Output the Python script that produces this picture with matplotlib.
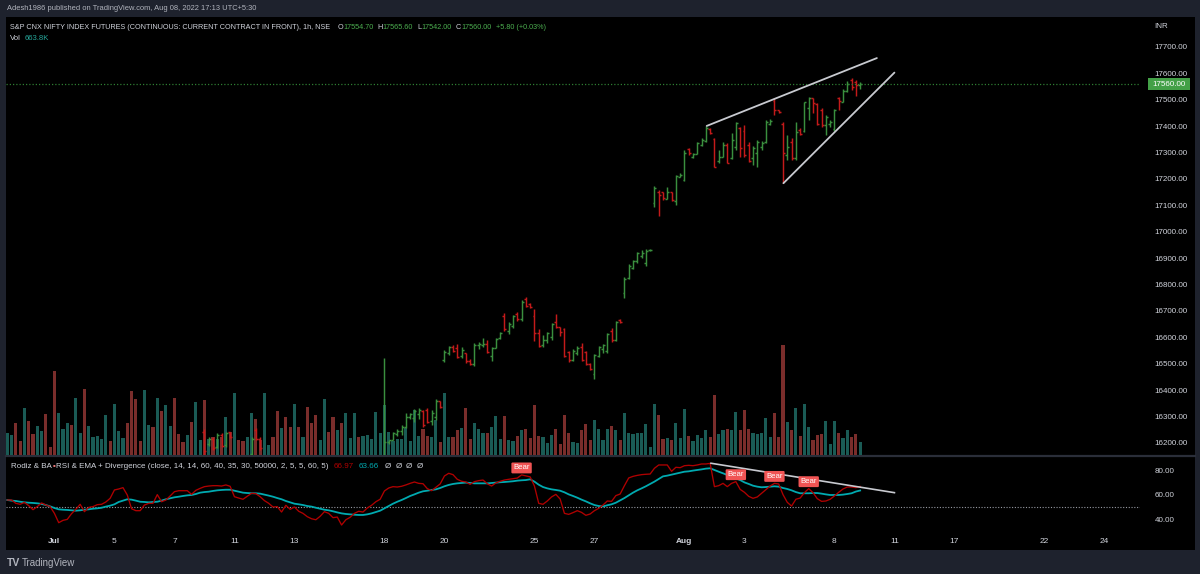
import matplotlib
matplotlib.use("Agg")
import matplotlib.pyplot as plt
import numpy as np
from matplotlib.collections import LineCollection
from matplotlib.patches import Rectangle

# ---------------- data ----------------
# hourly bars, index 0 = Jun 29 12:15 ... index 199 = Aug 8 15:15 (7 bars per session)
n_bars = 200

# volume in thousands
volume = [
    1100, 1000, 1600, 700, 2350, 1700, 1050, 1450, 1200, 2050,
    400, 4200, 2100, 1300, 1600, 1500, 2850, 1100, 3300, 1450,
    900, 950, 800, 2000, 700, 2550, 1200, 850, 1600, 3200,
    2800, 700, 3250, 1500, 1400, 2850, 2200, 2500, 1450, 2850,
    1050, 650, 1000, 1650, 2650, 750, 2750, 800, 900, 800,
    900, 1900, 1150, 3100, 750, 700, 900, 2100, 1800, 750,
    3100, 500, 900, 2200, 1350, 1900, 1400, 2550, 1400, 900,
    2400, 1600, 2000, 750, 2800, 1150, 1900, 1250, 1600, 2100,
    850, 2100, 900, 950, 1000, 800, 2150, 1100, 2500, 1150,
    700, 800, 800, 1350, 700, 2250, 950, 1300, 950, 900,
    1750, 650, 3100, 900, 900, 1250, 1350, 2350, 800, 1600,
    1300, 1100, 1100, 1400, 1950, 800, 1950, 750, 700, 950,
    1250, 1300, 850, 2500, 950, 900, 600, 1000, 1300, 550,
    2000, 1100, 650, 600, 1250, 1550, 750, 1750, 1300, 750,
    1300, 1450, 1250, 750, 2100, 1100, 1050, 1100, 1100, 1550,
    400, 2550, 2000, 800, 850, 750, 1600, 850, 2300, 950,
    700, 1000, 850, 1250, 900, 3000, 1050, 1250, 1300, 1250,
    2150, 1250, 2250, 1300, 1100, 1050, 1100, 1850, 900, 2100,
    900, 5500, 1650, 1250, 2350, 950, 2550, 1400, 750, 1000,
    1050, 1700, 550, 1700, 1100, 850, 1250, 900, 1050, 663.8,
]
# bar direction (t = close above open, r = close below open)
bar_dir = ("ttrrtrrttr" "rrtttrttrt" "ttttrtttrr" "rrttrtrttr" "rrtrttrtrt"
           "rtrtrrttrr" "ttrrtrrtrt" "rrrttrrtrt" "ttrttttttt" "tttttttrrt" "tr"
           "ttrrtrrttt" "rtttrttrtr" "rrrtttrrrr" "ttrrrttttr" "trtttttttt"
           "rrtrtttrtt" "ttrrttrttr" "rrtttttrrr" "trtrttrrrt" "ttrttrrt")

# OHLC of the bars visible inside the price window (index 46 .. 199), None = below window
ohlc_start = 46
N_ = None
opens = [16240, 16195, 16215, 16185, 16232, 16192, 16240,
         N_, N_, N_, N_, 16160, 16250, 16215] + [N_] * 28 + [
         16120, 16202, 16213, 16235, 16245, 16262, 16300,
         16295, 16310, 16320, 16325, 16285, 16300, 16358,
         16515, 16540, 16565, 16560, 16528, 16540, 16512,
         16500, 16570, 16570, 16575, 16530, 16560, 16598,
         16680, 16625, 16645, 16690, 16670, 16745, 16725,
         16680, 16615, 16570, 16590, 16600, 16660, 16638,
         16630, 16545, 16515, 16540, 16565, 16545, 16500,
         16460, 16530, 16555, 16550, 16625, 16590, 16665,
         16770, 16825, 16862, 16888, 16908, 16880, 16930,
         17108, 17150, 17150, 17125, 17150, 17115, 17208,
         17195, 17315, 17285, 17295, 17330, 17345, 17390,
         17352, 17270, 17285, 17330, 17280, 17320, 17395,
         17380, 17330, 17280, 17300, 17320, 17340, 17410,
         17495, 17460, 17410, 17290, 17340, 17280, 17385,
         17380, 17470, 17505, 17485, 17460, 17405, 17410,
         17390, 17507, 17493, 17535, 17575, 17568, 17554.7]
highs = [16252, 16224, 16221, 16237, 16237, 16243, 16243,
         N_, N_, N_, N_, 16224, 16256, 16224] + [N_] * 28 + [
         16522, 16213, 16243, 16252, 16268, 16312, 16315,
         16328, 16331, 16325, 16331, 16325, 16367, 16359,
         16552, 16567, 16571, 16574, 16562, 16542, 16518,
         16578, 16581, 16599, 16590, 16565, 16599, 16622,
         16691, 16657, 16685, 16697, 16742, 16754, 16729,
         16706, 16631, 16609, 16622, 16656, 16689, 16641,
         16637, 16550, 16555, 16567, 16578, 16550, 16504,
         16537, 16567, 16575, 16618, 16634, 16663, 16668,
         16830, 16877, 16893, 16925, 16931, 16935, 16934,
         17174, 17158, 17152, 17171, 17152, 17215, 17222,
         17310, 17316, 17297, 17342, 17354, 17400, 17392,
         17355, 17310, 17342, 17335, 17373, 17417, 17398,
         17405, 17340, 17325, 17348, 17345, 17423, 17426,
         17506, 17463, 17415, 17367, 17354, 17417, 17392,
         17493, 17512, 17506, 17487, 17468, 17442, 17424,
         17464, 17509, 17540, 17572, 17581, 17575, 17565.6]
lows = [16150, 16190, 16174, 16180, 16186, 16186, 16218,
        N_, N_, N_, N_, 16150, 16211, 16174] + [N_] * 28 + [
        16100, 16198, 16211, 16228, 16230, 16256, 16290,
        16281, 16290, 16262, 16275, 16268, 16287, 16331,
        16506, 16533, 16546, 16521, 16521, 16504, 16495,
        16492, 16556, 16565, 16540, 16511, 16559, 16594,
        16626, 16612, 16634, 16662, 16662, 16716, 16713,
        16588, 16565, 16562, 16578, 16590, 16634, 16605,
        16525, 16508, 16512, 16533, 16512, 16495, 16477,
        16441, 16525, 16542, 16542, 16584, 16588, 16656,
        16748, 16820, 16858, 16883, 16900, 16870, 16929,
        17095, 17060, 17121, 17123, 17118, 17102, 17207,
        17194, 17291, 17278, 17295, 17325, 17341, 17370,
        17244, 17260, 17285, 17260, 17275, 17310, 17285,
        17285, 17266, 17253, 17245, 17310, 17335, 17405,
        17443, 17449, 17184, 17272, 17272, 17272, 17367,
        17379, 17422, 17451, 17405, 17398, 17367, 17398,
        17383, 17461, 17490, 17531, 17537, 17515, 17542.0]
closes = [16170, 16215, 16180, 16230, 16190, 16238, 16222,
          N_, N_, N_, N_, 16215, 16215, 16180] + [N_] * 28 + [
          16205, 16210, 16238, 16247, 16262, 16300, 16310,
          16320, 16325, 16270, 16280, 16315, 16360, 16335,
          16545, 16562, 16550, 16524, 16554, 16510, 16498,
          16572, 16575, 16576, 16545, 16560, 16595, 16615,
          16632, 16652, 16680, 16668, 16735, 16720, 16714,
          16615, 16568, 16590, 16615, 16652, 16640, 16620,
          16528, 16515, 16550, 16560, 16514, 16500, 16482,
          16533, 16562, 16570, 16613, 16590, 16660, 16658,
          16823, 16870, 16891, 16921, 16921, 16929, 16932,
          17165, 17140, 17128, 17150, 17122, 17210, 17216,
          17297, 17297, 17295, 17335, 17348, 17392, 17376,
          17247, 17285, 17329, 17262, 17348, 17411, 17316,
          17290, 17270, 17316, 17342, 17335, 17417, 17421,
          17461, 17452, 17300, 17322, 17278, 17379, 17370,
          17490, 17505, 17487, 17408, 17404, 17436, 17415,
          17460, 17495, 17535, 17560, 17548, 17554.2, 17560.0]

rsi = [
    55.9, 55.9, 53.2, 52.4, 54.0, 51.3, 48.0, 50.5, 53.5, 51.8,
    50.5, 45.0, 37.4, 39.3, 40.1, 44.8, 48.3, 52.4, 46.4, 49.9,
    50.5, 52.1, 52.4, 54.3, 57.3, 64.1, 64.9, 66.0, 60.0, 48.8,
    47.2, 47.2, 51.8, 53.2, 53.2, 60.3, 54.5, 55.9, 59.2, 62.7,
    63.5, 63.5, 63.5, 60.5, 63.8, 65.4, 66.8, 67.3, 67.6, 67.6,
    67.3, 68.2, 67.1, 58.6, 57.5, 56.5, 58.9, 61.4, 61.1, 58.6,
    55.4, 53.2, 50.2, 50.5, 46.1, 51.6, 48.3, 50.2, 46.7, 45.0,
    42.3, 40.6, 39.8, 42.6, 46.4, 45.0, 41.5, 42.0, 35.5, 39.8,
    41.8, 45.0, 46.7, 46.1, 49.4, 51.6, 54.5, 56.5, 63.3, 65.7,
    66.8, 66.5, 67.1, 68.2, 69.5, 70.6, 69.5, 69.2, 65.2, 63.5,
    66.3, 69.0, 75.5, 77.7, 76.6, 72.8, 71.2, 70.6, 68.7, 70.9,
    71.7, 72.2, 69.2, 67.3, 69.8, 71.2, 72.2, 72.8, 73.3, 73.8,
    76.4, 75.6, 74.8, 67.3, 53.2, 52.4, 55.1, 58.4, 60.5, 56.7,
    45.0, 44.2, 45.6, 47.2, 45.8, 43.4, 44.5, 47.2, 49.1, 51.8,
    55.1, 54.8, 59.5, 60.8, 67.6, 73.9, 75.2, 76.0, 76.6, 76.9,
    77.1, 81.8, 84.5, 84.5, 84.5, 79.3, 82.6, 82.3, 83.9, 84.2,
    83.9, 84.5, 85.3, 85.3, 85.8, 66.8, 67.6, 69.5, 66.8, 69.5,
    70.9, 64.6, 62.2, 58.9, 57.3, 58.4, 61.4, 64.3, 67.3, 69.5,
    69.0, 60.3, 54.0, 51.0, 56.5, 57.5, 61.9, 65.2, 61.9, 57.0,
    54.8, 55.1, 56.5, 59.2, 62.2, 64.9, 66.5, 66.5, 66.0, 66.97,
]
rsi_ema = [
    55.9, 55.4, 55.1, 54.5, 54.0, 53.7, 53.5, 53.2, 52.7, 51.8,
    50.7, 49.4, 48.3, 48.0, 47.8, 47.5, 47.2, 47.5, 48.0, 48.3,
    48.8, 49.1, 49.6, 50.5, 51.3, 52.4, 54.3, 55.4, 56.5, 56.2,
    55.4, 54.5, 54.3, 54.0, 54.3, 54.5, 55.4, 56.5, 57.3, 58.1,
    58.6, 59.2, 59.7, 60.0, 60.8, 61.9, 62.4, 62.7, 63.3, 63.8,
    64.1, 64.3, 64.3, 63.5, 62.7, 61.9, 61.6, 61.4, 61.4, 61.1,
    60.3, 59.5, 58.6, 57.5, 56.5, 55.1, 54.0, 52.9, 52.4, 51.8,
    51.0, 50.5, 49.6, 48.8, 48.0, 47.5, 46.7, 45.8, 45.0, 44.5,
    44.2, 43.9, 43.7, 43.7, 44.2, 45.0, 46.1, 47.2, 49.1, 51.0,
    52.9, 54.5, 55.9, 57.5, 59.2, 60.5, 61.9, 63.0, 63.5, 64.1,
    64.6, 65.7, 67.1, 68.2, 69.0, 69.5, 69.8, 70.1, 69.8, 69.5,
    69.5, 69.5, 69.5, 69.8, 70.1, 70.4, 70.6, 70.9, 71.2, 71.7,
    72.0, 72.2, 72.8, 70.9, 68.4, 66.5, 65.4, 64.6, 64.1, 63.5,
    62.2, 60.5, 59.2, 57.8, 56.2, 54.8, 53.2, 51.8, 51.0, 50.7,
    51.6, 52.4, 53.7, 55.6, 57.5, 59.7, 61.9, 63.8, 65.4, 67.1,
    69.0, 70.9, 73.1, 75.2, 75.8, 76.6, 77.4, 78.2, 79.0, 79.3,
    79.9, 80.4, 80.9, 81.5, 81.8, 80.4, 79.0, 77.7, 76.3, 74.7,
    73.6, 72.2, 70.3, 69.0, 67.6, 66.8, 66.3, 66.5, 66.8, 67.1,
    66.8, 65.7, 64.9, 63.8, 62.4, 61.4, 61.4, 61.4, 61.6, 61.6,
    61.1, 60.5, 60.0, 60.0, 60.0, 60.3, 60.8, 61.4, 62.8, 63.66,
]
bear_pivots = [120, 170, 179, 187]

# drawings (bar index, value)
wedge_upper = [(163.2, 17401), (202.9, 17658)]
wedge_lower = [(181.1, 17184), (207.0, 17603)]
rsi_trend = [(164.2, 85.9), (207.0, 61.9)]

last_price = 17560.0
price_ticks = list(range(16200, 17701, 100))
rsi_ticks = [40, 60, 80]
date_idx = [11, 25, 39, 53, 67, 88, 102, 123, 137, 158, 172, 193, 207, 221, 242, 256]
date_lbl = ["Jul", "5", "7", "11", "13", "18", "20", "25", "27", "Aug", "3", "8", "11", "17", "22", "24"]

# ---------------- style ----------------
W, H, DPI = 1200, 574, 100
FRAME = "#1e222d"
TXT = "#d1d4dc"
UP_BAR, DN_BAR = "#3a8f3e", "#c41a1a"
UP_VOL, DN_VOL = "#1a5b55", "#7a2d2b"
RSI_C, EMA_C = "#b00000", "#00aab0"
plt.rcParams["font.family"] = ["Liberation Sans", "DejaVu Sans"]

fig = plt.figure(figsize=(W / DPI, H / DPI), dpi=DPI, facecolor=FRAME)


def rect(x0, y0, x1, y1):
    return [x0 / W, 1 - y1 / H, (x1 - x0) / W, (y1 - y0) / H]


bg = fig.add_axes(rect(0, 0, W, H))
bg.set_xlim(0, W); bg.set_ylim(H, 0); bg.axis("off")
bg.add_patch(Rectangle((6, 17), 1189, 533, facecolor="black", edgecolor="none"))
bg.plot([6, 1195], [456, 456], color="#2a2e39", lw=1.6)

XL = (-0.3, 264.3)
PRICE_RECT = rect(6, 17, 1140, 455)
ax_vol = fig.add_axes(PRICE_RECT)
ax_p = fig.add_axes(PRICE_RECT)
ax_r = fig.add_axes(rect(6, 457, 1140, 532))
for a in (ax_vol, ax_p, ax_r):
    a.set_facecolor("none")
    a.set_xlim(*XL)
    for s in a.spines.values():
        s.set_visible(False)

idx = np.arange(n_bars)

# volume
vcol = [UP_VOL if d == "t" else DN_VOL for d in bar_dir]
ax_vol.bar(idx, volume, width=0.74, color=vcol, linewidth=0)
ax_vol.set_ylim(0, 21900)
ax_vol.set_xticks([]); ax_vol.set_yticks([])

# price bars
segs, cols = [], []
for k in range(len(opens)):
    o, h, l, c = opens[k], highs[k], lows[k], closes[k]
    if o is None:
        continue
    i = ohlc_start + k
    col = UP_BAR if c >= o else DN_BAR
    segs += [[(i, l), (i, h)], [(i - 0.45, o), (i, o)], [(i, c), (i + 0.45, c)]]
    cols += [col] * 3
ax_p.add_collection(LineCollection(segs, colors=cols, linewidths=1.05, capstyle="butt"))
ax_p.set_ylim(16154.5, 17813.6)
ax_p.axhline(last_price, color="#2e7d32", lw=0.9, ls=(0, (1, 1.6)))
for ln in (wedge_upper, wedge_lower):
    ax_p.plot([ln[0][0], ln[1][0]], [ln[0][1], ln[1][1]], color="#c8cad0", lw=1.3,
              solid_capstyle="round")
ax_p.yaxis.tick_right()
ax_p.set_yticks(price_ticks)
ax_p.set_yticklabels([f"{v:.2f}" for v in price_ticks])
ax_p.tick_params(axis="y", length=0, pad=10.5, labelsize=5.8, labelcolor=TXT)
ax_p.set_xticks([])

# RSI pane
ax_r.set_ylim(29.8, 91.0)
ax_r.axhline(50, color="#9598a1", lw=0.8, ls=(0, (1, 1.5)))
ax_r.plot(idx, rsi_ema, color=EMA_C, lw=1.3)
ax_r.plot(idx, rsi, color=RSI_C, lw=0.95)
ax_r.plot([rsi_trend[0][0], rsi_trend[1][0]], [rsi_trend[0][1], rsi_trend[1][1]],
          color="#c8cad0", lw=1.2)
for p in bear_pivots:
    ax_r.annotate("Bear", xy=(p, rsi[p]), xytext=(0, 5), textcoords="offset points",
                  ha="center", va="center", fontsize=5.6, color="white",
                  bbox=dict(boxstyle="round,pad=0.25,rounding_size=0.15", fc="#f05454", ec="none"))
ax_r.yaxis.tick_right()
ax_r.set_yticks(rsi_ticks)
ax_r.set_yticklabels([f"{v:.2f}" for v in rsi_ticks])
ax_r.tick_params(axis="y", length=0, pad=10.5, labelsize=5.8, labelcolor=TXT)
ax_r.set_xticks(date_idx)
ax_r.set_xticklabels(date_lbl)
ax_r.tick_params(axis="x", length=0, pad=4.5, labelsize=6.0, labelcolor=TXT)
for t in ax_r.get_xticklabels():
    if t.get_text() in ("Jul", "Aug"):
        t.set_fontweight("bold")

# ---------------- texts ----------------
renderer = fig.canvas.get_renderer()


def runs(x, y, parts, size, weight="normal"):
    for s, col, gap in parts:
        t = bg.text(x, y, s, color=col, fontsize=size, ha="left", va="center", fontweight=weight)
        x += t.get_window_extent(renderer=renderer).width + gap
    return x


bg.text(7, 9, "Adesh1986 published on TradingView.com, Aug 08, 2022 17:13 UTC+5:30",
        color="#b2b5be", fontsize=5.4, ha="left", va="center")
G = "#4caf50"
runs(10, 27.5, [("S&P CNX NIFTY INDEX FUTURES (CONTINUOUS: CURRENT CONTRACT IN FRONT), 1h, NSE", TXT, 7),
                ("O", TXT, 0.3), ("17554.70", G, 4), ("H", TXT, 0.3), ("17565.60", G, 4),
                ("L", TXT, 0.3), ("17542.00", G, 4), ("C", TXT, 0.3), ("17560.00", G, 4),
                ("+5.80 (+0.03%)", G, 0)], 5.2)
runs(10, 39, [("Vol", TXT, 4), ("663.8K", "#26a69a", 0)], 5.6)
runs(11, 466, [("Rodiz & BA", TXT, 0.5), ("\u25aa", "#e57373", 0.5),
               ("RSI & EMA + Divergence (close, 14, 14, 60, 40, 35, 30, 50000, 2, 5, 5, 60, 5)", TXT, 5),
               ("66.97", RSI_C, 5), ("63.66", EMA_C, 6),
               ("\u00d8", TXT, 4.5), ("\u00d8", TXT, 4.5), ("\u00d8", TXT, 4.5), ("\u00d8", TXT, 0)], 5.8)

bg.text(1154, 27, "INR", color=TXT, fontsize=5.8, ha="left", va="center")
bg.add_patch(Rectangle((1148, 78), 42, 11.5, facecolor="#43a047", edgecolor="none"))
bg.text(1169, 84, f"{last_price:.2f}", color="white", fontsize=5.8, ha="center", va="center")

runs(7, 563, [("TV", "#b2b5be", 3)], 7.5, weight="bold")
bg.text(22, 563, "TradingView", color="#b2b5be", fontsize=7.0, ha="left", va="center")

fig.savefig("out.png", dpi=DPI, facecolor=FRAME)
